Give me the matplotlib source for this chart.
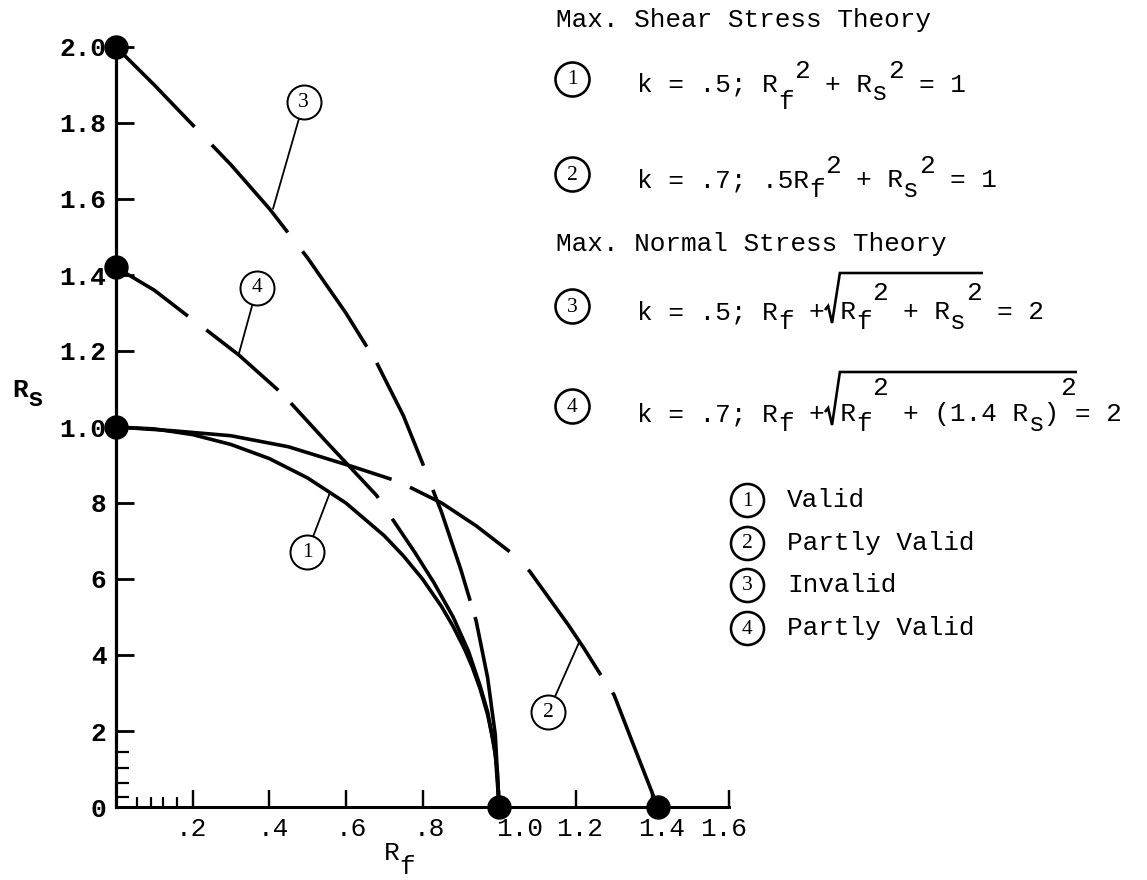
import re
import matplotlib
matplotlib.use("Agg")
import matplotlib.pyplot as plt

# ---------------------------------------------------------------------------
# Interaction curves R_s versus R_f
# ---------------------------------------------------------------------------
# (1) Max. shear stress, k = .5 : Rf^2 + Rs^2 = 1
c1_rf = [0.00, 0.10, 0.20, 0.30, 0.40, 0.50, 0.60, 0.70, 0.75, 0.80, 0.85, 0.88,
         0.91, 0.93, 0.95, 0.97, 0.985, 0.995, 1.00]
c1_rs = [1.00, 0.995, 0.98, 0.954, 0.917, 0.866, 0.80, 0.714, 0.661, 0.60, 0.527, 0.475,
         0.415, 0.368, 0.312, 0.243, 0.173, 0.10, 0.00]

# (2) Max. shear stress, k = .7 : .5Rf^2 + Rs^2 = 1
c2_rf = [0.00, 0.15, 0.30, 0.45, 0.62, 0.72, 0.77, 0.85, 0.94, 1.03, 1.08, 1.13,
         1.18, 1.22, 1.27, 1.30, 1.35, 1.414]
c2_rs = [1.00, 0.99, 0.977, 0.948, 0.895, 0.862, 0.84, 0.80, 0.74, 0.67, 0.62, 0.55,
         0.48, 0.42, 0.34, 0.295, 0.165, 0.00]

# (3) Max. normal stress, k = .5 : Rf + sqrt(Rf^2 + Rs^2) = 2
c3_rf = [0.00, 0.10, 0.20, 0.30, 0.40, 0.50, 0.60, 0.68, 0.75, 0.80, 0.85, 0.90,
         0.94, 0.97, 0.99, 1.00]
c3_rs = [2.00, 1.90, 1.795, 1.69, 1.575, 1.445, 1.30, 1.17, 1.03, 0.905, 0.775, 0.625,
         0.49, 0.34, 0.19, 0.00]

# (4) Max. normal stress, k = .7 : Rf + sqrt(Rf^2 + (1.4 Rs)^2) = 2
c4_rf = [0.00, 0.10, 0.19, 0.23, 0.32, 0.42, 0.45, 0.55, 0.68, 0.72, 0.78, 0.83,
         0.88, 0.92, 0.95, 0.97, 0.99, 1.00]
c4_rs = [1.42, 1.36, 1.29, 1.26, 1.19, 1.10, 1.07, 0.96, 0.82, 0.76, 0.67, 0.59,
         0.50, 0.41, 0.32, 0.25, 0.14, 0.00]

# end points of the curves on the axes
end_rf = [0.0, 0.0, 0.0, 1.0, 1.414]
end_rs = [2.0, 1.42, 1.0, 0.0, 0.0]

# axis ticks
x_ticks = [0.2, 0.4, 0.6, 0.8, 1.0, 1.2, 1.4, 1.6]
x_tick_labels = [".2", ".4", ".6", ".8", "1.0", "1.2", "1.4", "1.6"]
y_ticks = [0.0, 0.2, 0.4, 0.6, 0.8, 1.0, 1.2, 1.4, 1.6, 1.8, 2.0]
y_tick_labels = ["0", "2", "4", "6", "8", "1.0", "1.2", "1.4", "1.6", "1.8", "2.0"]
x_minor = [0.055, 0.091, 0.123, 0.159]
y_minor = [0.026, 0.063, 0.103, 0.145]

validity = ["Valid", "Partly Valid", "Invalid", "Partly Valid"]

# ---------------------------------------------------------------------------
# Figure set-up
# ---------------------------------------------------------------------------
W, H, DPI = 1147, 880, 100
PX = 72.0 / DPI            # points per pixel
MONO = "Liberation Mono"
SERIF = "Liberation Serif"
FS = 18.8                  # typewriter size
CW = 0.6 * FS / PX         # monospace advance in pixels

plt.rcParams["lines.scale_dashes"] = False

fig = plt.figure(figsize=(W / DPI, H / DPI), dpi=DPI)
fig.patch.set_facecolor("white")

ax = fig.add_axes([116 / W, (H - 807) / H, 613 / W, 760 / H])
ax.set_xlim(0, 1.6)
ax.set_ylim(0, 2.0)
ax.spines["top"].set_visible(False)
ax.spines["right"].set_visible(False)
ax.spines["left"].set_linewidth(3.2 * PX)
ax.spines["bottom"].set_linewidth(3.0 * PX)

LW = 3.6 * PX


def dashes(px_list):
    return (0, [v * PX for v in px_list])


# curve line styles (dash lengths in pixels along the curve)
style2 = dashes([282, 20, 119, 26, 128, 21, 400, 10])
style3 = dashes([112, 25, 116, 24, 115, 19, 113, 26, 117, 17, 400, 10])
style4 = dashes([87, 23, 94, 18, 129, 25, 800, 10])

common = dict(color="black", lw=LW, clip_on=False, zorder=3,
              solid_capstyle="butt", dash_capstyle="butt", solid_joinstyle="round")
ax.plot(c1_rf, c1_rs, linestyle="-", **common)
ax.plot(c2_rf, c2_rs, linestyle=style2, **common)
ax.plot(c3_rf, c3_rs, linestyle=style3, **common)
ax.plot(c4_rf, c4_rs, linestyle=style4, **common)

ax.plot(end_rf, end_rs, linestyle="none", marker="o", ms=23 * PX,
        color="black", clip_on=False, zorder=6)

# ticks (x labels are typed individually with small horizontal shifts)
ax.set_xticks(x_ticks, [""] * len(x_ticks))
ax.set_yticks(y_ticks, y_tick_labels)
ax.set_xticks(x_minor, minor=True)
ax.set_yticks(y_minor, minor=True)
ax.tick_params(axis="x", which="major", direction="in", length=17 * PX, width=2.4 * PX)
ax.tick_params(axis="x", which="minor", direction="in", length=10 * PX, width=2.2 * PX)
ax.tick_params(axis="y", which="major", direction="in", length=18 * PX,
               width=2.8 * PX, pad=7, labelsize=FS)
ax.tick_params(axis="y", which="minor", direction="in", length=13 * PX, width=2.2 * PX)
for t in ax.get_yticklabels():
    t.set_family(MONO)
    t.set_fontweight("bold")

x_label_shift_px = [-1, 4, 5, 7, 20, 4, 9, -5]
for xv, lab, dx in zip(x_ticks, x_tick_labels, x_label_shift_px):
    ax.annotate(lab, (xv, 0), xytext=(dx * PX, -29 * PX), textcoords="offset points",
                ha="center", va="baseline", family=MONO, fontsize=FS,
                annotation_clip=False)

# numbered callouts on the curves: (label, circle centre, point on curve)
callouts = [
    ("1", (0.499, 0.671), (0.559, 0.829)),
    ("2", (1.128, 0.250), (1.209, 0.434)),
    ("3", (0.490, 1.855), (0.410, 1.575)),
    ("4", (0.368, 1.366), (0.320, 1.190)),
]
for digit, (cx, cy), (px_, py_) in callouts:
    ax.plot([px_, cx], [py_, cy], color="black", lw=1.8 * PX, zorder=4)
    ax.plot(cx, cy, marker="o", ms=34 * PX, mfc="white", mec="black",
            mew=2.0 * PX, zorder=5, clip_on=False)
    ax.text(cx, cy, digit, ha="center", va="center", family=SERIF,
            fontsize=15.5, zorder=6)

# ---------------------------------------------------------------------------
# Text block in figure pixel coordinates (origin top-left)
# ---------------------------------------------------------------------------
ov = fig.add_axes([0, 0, 1, 1], zorder=5)
ov.set_xlim(0, W)
ov.set_ylim(H, 0)
ov.axis("off")


def typed(x, base, lines, weight="normal"):
    """Typewriter text on a fixed character grid.

    Each entry is (line, vertical shift in px); every run of non-blank
    characters is set at its own column so raised and lowered characters
    sit in the gaps of the main line.
    """
    for s, dy in lines:
        for m in re.finditer(r"\S+(?: \S+)*", s):
            ov.text(x + m.start() * CW, base + dy, m.group(), family=MONO,
                    fontsize=FS, weight=weight, ha="left", va="baseline")


def circled(x, y, digit, diam=34, edge=2.6, size=15.5):
    ov.plot(x, y, marker="o", ms=diam * PX, mfc="white", mec="black", mew=edge * PX)
    ov.text(x, y + 1, digit, ha="center", va="center", family=SERIF, fontsize=size)


def radical(x0, col_start, col_end, base, top):
    xs = x0 + col_start * CW
    xe = x0 + col_end * CW
    ov.plot([xs + 0.05 * CW, xs + 0.2 * CW, xs + 0.45 * CW, xs + 0.95 * CW, xe],
            [base - 10, base - 13, base + 4, top, top],
            color="black", lw=2.6 * PX, solid_joinstyle="miter")


# axis titles
typed(12, 397, [("R", 0), (" s", 9)], weight="bold")
typed(384, 860, [("R", 0), (" f", 14)])

HX = 556          # headings
EX = 637          # equation text
CX = 572          # equation circles

typed(HX, 27, [("Max. Shear Stress Theory", 0)])
circled(CX, 79, "1")
typed(EX, 92, [("k = .5; R   + R   = 1", 0),
               ("          2     2", -14),
               ("         f", 17),
               ("               s", 8)])

circled(CX, 174, "2")
typed(EX, 187, [("k = .7; .5R   + R   = 1", 0),
                ("            2     2", -14),
                ("           f     s", 10)])

typed(HX, 251, [("Max. Normal Stress Theory", 0)])
circled(CX, 306, "3")
typed(EX, 319, [("k = .5; R  + R   + R   = 2", 0),
                ("               2     2", -19),
                ("         f    f     s", 10)])
radical(EX, 12, 22, 319, 273)

circled(CX, 406, "4")
typed(EX, 421, [("k = .7; R  + R   + (1.4 R ) = 2", 0),
                ("               2           2", -26),
                ("         f    f          s", 10)])
radical(EX, 12, 28, 421, 372)

# validity list
VX, VT = 747, 787
for i, (word, base) in enumerate(zip(validity, [507, 550, 592, 635])):
    circled(VX, base - 7, str(i + 1), diam=33)
    typed(VT, base, [(word, 0)])

fig.savefig("out.png", dpi=DPI, facecolor="white")
